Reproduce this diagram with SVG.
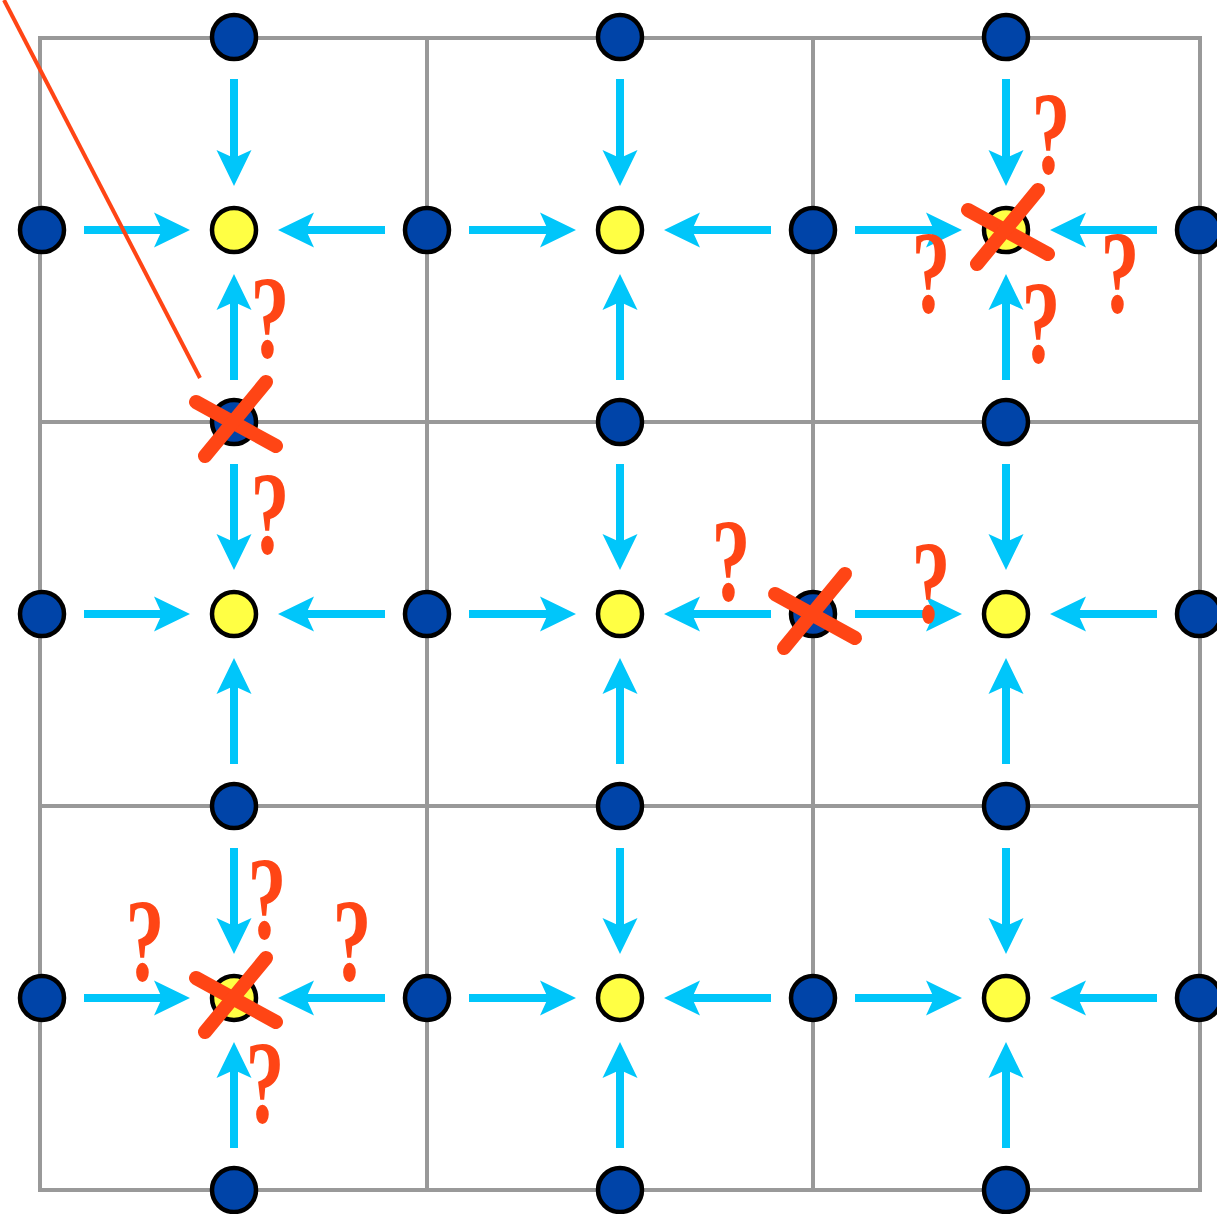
<svg xmlns="http://www.w3.org/2000/svg" width="1217" height="1214" viewBox="0 0 1217 1214">
<style>
.grid{fill:none;stroke:#999;stroke-width:4}
.arr{fill:none;stroke:#00C6FA;stroke-width:8;marker-end:url(#ah)}
.blue{fill:#0044A8;stroke:#000;stroke-width:4.5}
.yel{fill:#FFFF44;stroke:#000;stroke-width:4.5}
.x{stroke:#FF4515;stroke-width:14;stroke-linecap:round;fill:none}
.q{font-family:"Liberation Serif",serif;font-weight:bold;font-size:118px;fill:#FF4515;text-anchor:middle}
</style>
<defs>
<marker id="ah" markerUnits="userSpaceOnUse" markerWidth="36" markerHeight="36" viewBox="0 0 36 36" refX="8" refY="18" orient="auto"><path d="M0,0.5 L36,18 L0,35.5 L8,18 Z" fill="#00C6FA"/></marker>
<g id="xm"><line class="x" x1="-38" y1="-20" x2="42" y2="24"/><line class="x" x1="32" y1="-40" x2="-29" y2="34"/></g>
</defs>
<g id="grid">
<rect class="grid" x="40" y="38" width="1160" height="1152"/>
<line class="grid" x1="427" y1="38" x2="427" y2="1190"/>
<line class="grid" x1="813" y1="38" x2="813" y2="1190"/>
<line class="grid" x1="40" y1="422" x2="1200" y2="422"/>
<line class="grid" x1="40" y1="806" x2="1200" y2="806"/>
</g>
<g id="connectors">
<path class="arr" d="M84 230H162"/><path class="arr" d="M385 230H306"/><path class="arr" d="M469 230H548"/><path class="arr" d="M771 230H692"/><path class="arr" d="M855 230H934"/><path class="arr" d="M1157 230H1078"/>
<path class="arr" d="M84 614H162"/><path class="arr" d="M385 614H306"/><path class="arr" d="M469 614H548"/><path class="arr" d="M771 614H692"/><path class="arr" d="M855 614H934"/><path class="arr" d="M1157 614H1078"/>
<path class="arr" d="M84 998H162"/><path class="arr" d="M385 998H306"/><path class="arr" d="M469 998H548"/><path class="arr" d="M771 998H692"/><path class="arr" d="M855 998H934"/><path class="arr" d="M1157 998H1078"/>
<path class="arr" d="M234 79V158"/><path class="arr" d="M234 380V302"/><path class="arr" d="M234 464V542"/><path class="arr" d="M234 764V686"/><path class="arr" d="M234 848V926"/><path class="arr" d="M234 1148V1070"/>
<path class="arr" d="M620 79V158"/><path class="arr" d="M620 380V302"/><path class="arr" d="M620 464V542"/><path class="arr" d="M620 764V686"/><path class="arr" d="M620 848V926"/><path class="arr" d="M620 1148V1070"/>
<path class="arr" d="M1006 79V158"/><path class="arr" d="M1006 380V302"/><path class="arr" d="M1006 464V542"/><path class="arr" d="M1006 764V686"/><path class="arr" d="M1006 848V926"/><path class="arr" d="M1006 1148V1070"/>
</g>
<g id="nodes">
<g id="b-t1"><circle class="blue" cx="234" cy="37" r="22"/></g>
<g id="b-t2"><circle class="blue" cx="620" cy="37" r="22"/></g>
<g id="b-t3"><circle class="blue" cx="1006" cy="37" r="22"/></g>
<g id="b-r1a"><circle class="blue" cx="42" cy="230" r="22"/></g>
<g id="b-r1b"><circle class="blue" cx="427" cy="230" r="22"/></g>
<g id="b-r1c"><circle class="blue" cx="813" cy="230" r="22"/></g>
<g id="b-r1d"><circle class="blue" cx="1199" cy="230" r="22"/></g>
<g id="b-m1a"><circle class="blue" cx="234" cy="422" r="22"/></g>
<g id="b-m1b"><circle class="blue" cx="620" cy="422" r="22"/></g>
<g id="b-m1c"><circle class="blue" cx="1006" cy="422" r="22"/></g>
<g id="b-r2a"><circle class="blue" cx="42" cy="614" r="22"/></g>
<g id="b-r2b"><circle class="blue" cx="427" cy="614" r="22"/></g>
<g id="b-r2c"><circle class="blue" cx="813" cy="614" r="22"/></g>
<g id="b-r2d"><circle class="blue" cx="1199" cy="614" r="22"/></g>
<g id="b-m2a"><circle class="blue" cx="234" cy="806" r="22"/></g>
<g id="b-m2b"><circle class="blue" cx="620" cy="806" r="22"/></g>
<g id="b-m2c"><circle class="blue" cx="1006" cy="806" r="22"/></g>
<g id="b-r3a"><circle class="blue" cx="42" cy="998" r="22"/></g>
<g id="b-r3b"><circle class="blue" cx="427" cy="998" r="22"/></g>
<g id="b-r3c"><circle class="blue" cx="813" cy="998" r="22"/></g>
<g id="b-r3d"><circle class="blue" cx="1199" cy="998" r="22"/></g>
<g id="b-b1"><circle class="blue" cx="234" cy="1190" r="22"/></g>
<g id="b-b2"><circle class="blue" cx="620" cy="1190" r="22"/></g>
<g id="b-b3"><circle class="blue" cx="1006" cy="1190" r="22"/></g>
<g id="y11"><circle class="yel" cx="234" cy="230" r="22"/></g>
<g id="y12"><circle class="yel" cx="620" cy="230" r="22"/></g>
<g id="y13"><circle class="yel" cx="1006" cy="230" r="22"/></g>
<g id="y21"><circle class="yel" cx="234" cy="614" r="22"/></g>
<g id="y22"><circle class="yel" cx="620" cy="614" r="22"/></g>
<g id="y23"><circle class="yel" cx="1006" cy="614" r="22"/></g>
<g id="y31"><circle class="yel" cx="234" cy="998" r="22"/></g>
<g id="y32"><circle class="yel" cx="620" cy="998" r="22"/></g>
<g id="y33"><circle class="yel" cx="1006" cy="998" r="22"/></g>
</g>
<g id="marks">
<line x1="4" y1="0" x2="200" y2="378" stroke="#FF4515" stroke-width="4"/>
<use href="#xm" x="234" y="422"/>
<use href="#xm" x="1006" y="230"/>
<use href="#xm" x="813" y="614"/>
<use href="#xm" x="234" y="998"/>
<text class="q" transform="translate(270,357) scale(0.66,1)">?</text>
<text class="q" transform="translate(270,553) scale(0.66,1)">?</text>
<text class="q" transform="translate(1051,173) scale(0.66,1)">?</text>
<text class="q" transform="translate(931,312) scale(0.66,1)">?</text>
<text class="q" transform="translate(1120,312) scale(0.66,1)">?</text>
<text class="q" transform="translate(1041,362) scale(0.66,1)">?</text>
<text class="q" transform="translate(731,600) scale(0.66,1)">?</text>
<text class="q" transform="translate(931,622) scale(0.66,1)">?</text>
<text class="q" transform="translate(267,938) scale(0.66,1)">?</text>
<text class="q" transform="translate(145,980) scale(0.66,1)">?</text>
<text class="q" transform="translate(352,980) scale(0.66,1)">?</text>
<text class="q" transform="translate(265,1122) scale(0.66,1)">?</text>
</g>
</svg>
